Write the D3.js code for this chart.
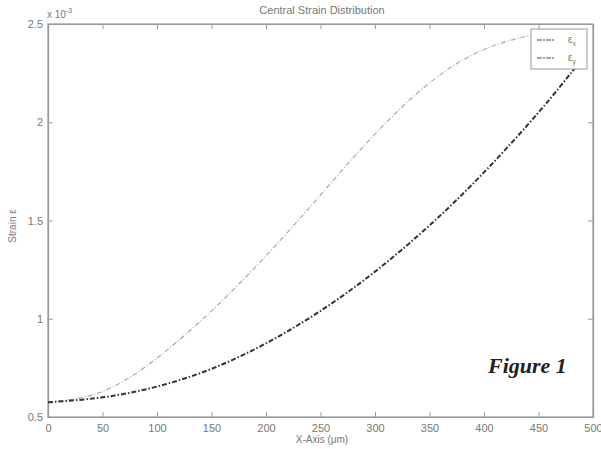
<!DOCTYPE html>
<html>
<head>
<meta charset="utf-8">
<script src="https://cdn.jsdelivr.net/npm/d3@7"></script>
<style>
  body { margin: 0; background: #fff; }
  svg text { font-family: "Liberation Sans", Arial, sans-serif; fill: #777; }
</style>
</head>
<body>
<script>
// Values in units of 1e-3
const xPos = [0, 50, 100, 150, 200, 250, 300, 350, 400, 450, 484];
const strainX = [0.575, 0.63, 0.80, 1.04, 1.32, 1.63, 1.94, 2.20, 2.37, 2.45, 2.47];
const strainY = [0.575, 0.60, 0.655, 0.745, 0.875, 1.04, 1.24, 1.475, 1.745, 2.05, 2.28];
const xTicks = [0, 50, 100, 150, 200, 250, 300, 350, 400, 450, 500];
const yTicks = [0.5, 1, 1.5, 2, 2.5];

const width = 601;
const height = 449;
const margin = { top: 24, right: 8, bottom: 32, left: 48 };

const svg = d3.select('body').append('svg')
  .attr('width', width)
  .attr('height', height);

const x = d3.scaleLinear().domain([0, 500]).range([margin.left, width - margin.right]);
const y = d3.scaleLinear().domain([0.5, 2.5]).range([height - margin.bottom, margin.top]);

// Plot frame
svg.append('rect')
  .attr('x', x(0)).attr('y', y(2.5))
  .attr('width', x(500) - x(0)).attr('height', y(0.5) - y(2.5))
  .attr('fill', '#fff').attr('stroke', '#999').attr('stroke-width', 1.2);

// Axes with inward ticks
svg.append('g')
  .attr('transform', `translate(0,${y(0.5)})`)
  .call(d3.axisBottom(x).tickValues(xTicks).tickSize(-5).tickPadding(7).tickFormat(d3.format('d')));
svg.append('g')
  .attr('transform', `translate(${x(0)},0)`)
  .call(d3.axisLeft(y).tickValues(yTicks).tickSize(-5).tickPadding(5).tickFormat(d => String(d)));
// ticks at top and right too
svg.append('g')
  .attr('transform', `translate(0,${y(2.5)})`)
  .call(d3.axisTop(x).tickValues(xTicks).tickSize(-5).tickFormat(''));
svg.append('g')
  .attr('transform', `translate(${x(500)},0)`)
  .call(d3.axisRight(y).tickValues(yTicks).tickSize(-5).tickFormat(''));

svg.selectAll('.domain').attr('stroke', '#999').attr('stroke-width', 1.2);
svg.selectAll('.tick line').attr('stroke', '#999');
svg.selectAll('.tick text').attr('font-size', 11).style('fill', '#777');

// Curves
const line = d3.line()
  .x(d => x(d[0]))
  .y(d => y(d[1]))
  .curve(d3.curveNatural);

svg.append('path')
  .datum(xPos.map((v, i) => [v, strainX[i]]))
  .attr('d', line)
  .attr('fill', 'none')
  .attr('stroke', '#aaa')
  .attr('stroke-width', 1.2)
  .attr('stroke-dasharray', '5,2,1,2');

svg.append('path')
  .datum(xPos.map((v, i) => [v, strainY[i]]))
  .attr('d', line)
  .attr('fill', 'none')
  .attr('stroke', '#333')
  .attr('stroke-width', 2)
  .attr('stroke-dasharray', '5,2,1.5,2');

// Legend
const legend = svg.append('g');
legend.append('rect')
  .attr('x', 531).attr('y', 29).attr('width', 56).attr('height', 40)
  .attr('fill', '#fff').attr('stroke', '#999');
const entries = [
  { sub: 'x', color: '#888', y: 40 },
  { sub: 'y', color: '#888', y: 58 }
];
entries.forEach(e => {
  legend.append('line')
    .attr('x1', 537).attr('x2', 554).attr('y1', e.y).attr('y2', e.y)
    .attr('stroke', e.color).attr('stroke-width', 1.5)
    .attr('stroke-dasharray', '5,1,2,1');
  const t = legend.append('text')
    .attr('x', 568).attr('y', e.y + 3).attr('font-size', 10);
  t.append('tspan').text('ε');
  t.append('tspan').attr('dy', 3).attr('font-size', 7).text(e.sub);
});

// Title and labels
svg.append('text')
  .attr('x', 322).attr('y', 14)
  .attr('text-anchor', 'middle').attr('font-size', 11)
  .text('Central Strain Distribution');

const exp = svg.append('text')
  .attr('x', 47).attr('y', 18).attr('font-size', 10);
exp.append('tspan').text('x 10');
exp.append('tspan').attr('dy', -5).attr('font-size', 7).text('-3');

svg.append('text')
  .attr('transform', 'translate(16,226) rotate(-90)')
  .attr('text-anchor', 'middle').attr('font-size', 10)
  .text('Strain ε');

svg.append('text')
  .attr('x', 322).attr('y', 443)
  .attr('text-anchor', 'middle').attr('font-size', 10)
  .text('X-Axis (μm)');

svg.append('text')
  .attr('x', 488).attr('y', 373)
  .style('font-family', '"Liberation Serif", "Times New Roman", serif')
  .style('font-size', '22px').style('font-weight', 'bold').style('font-style', 'italic')
  .style('fill', '#222')
  .text('Figure 1');
</script>
</body>
</html>
